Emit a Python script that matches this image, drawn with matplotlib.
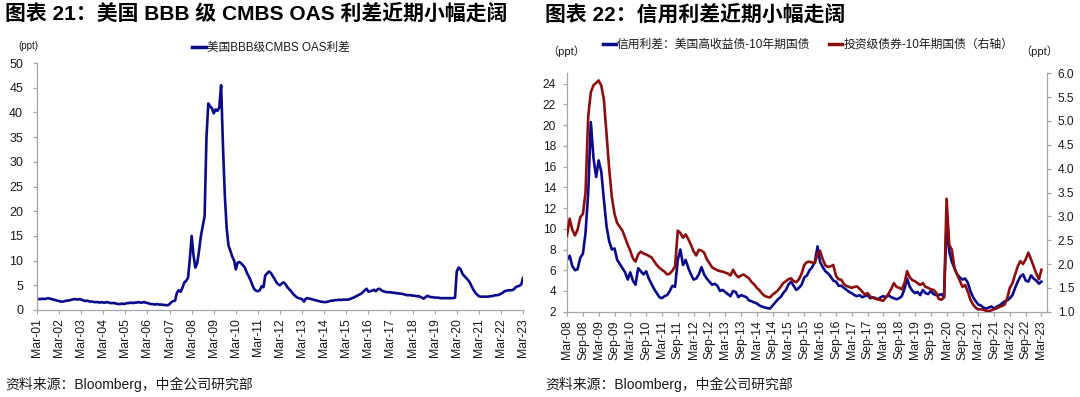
import numpy as np
import pandas as pd
import matplotlib
matplotlib.use('Agg')
import matplotlib.pyplot as plt
from matplotlib.lines import Line2D
from matplotlib.ticker import FormatStrFormatter

plt.rcParams['font.family'] = ['Liberation Sans', 'Noto Sans CJK SC']
plt.rcParams['axes.unicode_minus'] = False

# --- 图表21: 美国BBB级CMBS OAS利差 (月度, Mar-01 ~ Mar-23, ppt) ---
cmbs_oas = [
    2.3, 2.2, 2.2, 2.3, 2.2, 2.3, 2.4, 2.3, 2.2, 2.1, 2.0, 1.9,
    1.8, 1.7, 1.7, 1.8, 1.9, 1.9, 2.0, 2.1, 2.2, 2.2, 2.1, 2.2,
    2.1, 2.0, 1.8, 1.9, 1.8, 1.7, 1.7, 1.6, 1.6, 1.6, 1.5, 1.6,
    1.5, 1.5, 1.6, 1.5, 1.4, 1.4, 1.4, 1.3, 1.2, 1.2, 1.3, 1.2,
    1.3, 1.4, 1.4, 1.5, 1.4, 1.5, 1.5, 1.6, 1.5, 1.5, 1.6, 1.5,
    1.4, 1.3, 1.2, 1.2, 1.1, 1.2, 1.1, 1.1, 1.1, 1.0, 1.0, 0.95,
    1.2, 1.6, 1.8, 1.9, 3.5, 4.0, 3.7, 4.5, 5.6, 5.9, 6.5, 10.5,
    15.0, 11.0, 8.6, 9.5, 12.0, 15.0, 17.0, 19.0, 35.0, 41.8, 41.2, 40.8,
    39.8, 40.6, 40.3, 41.0, 45.5, 33.0, 23.0, 16.5, 13.0, 12.0, 10.8, 10.0,
    8.2, 9.6, 9.7, 9.4, 9.0, 8.5, 7.5, 6.8, 6.0, 5.0, 4.2, 3.9,
    3.8, 4.0, 4.8, 4.6, 7.0, 7.4, 7.8, 7.5, 6.9, 6.3, 5.6, 5.2,
    5.0, 5.4, 5.6, 5.2, 4.6, 4.2, 3.8, 3.3, 2.9, 2.6, 2.4, 2.3,
    2.2, 1.7, 2.3, 2.4, 2.3, 2.2, 2.1, 2.0, 1.9, 1.8, 1.7, 1.65,
    1.6, 1.6, 1.7, 1.8, 1.9, 1.9, 2.0, 2.0, 2.1, 2.0, 2.1, 2.1,
    2.1, 2.1, 2.2, 2.4, 2.5, 2.7, 2.9, 3.1, 3.3, 3.6, 4.0, 4.3,
    3.7, 3.8, 3.9, 4.1, 3.8, 4.2, 4.3, 4.0, 3.8, 3.7, 3.6, 3.6,
    3.6, 3.5, 3.5, 3.4, 3.4, 3.3, 3.3, 3.2, 3.1, 3.0, 3.0, 3.0,
    2.9, 2.9, 2.8, 2.8, 2.7, 2.5, 2.3, 2.6, 2.9, 2.7, 2.6, 2.6,
    2.5, 2.5, 2.5, 2.4, 2.4, 2.4, 2.4, 2.4, 2.4, 2.4, 2.4, 2.5,
    7.8, 8.6, 8.3, 7.4, 6.9, 6.5, 6.1, 5.6, 4.8, 4.1, 3.5, 3.1,
    2.8, 2.7, 2.7, 2.7, 2.7, 2.7, 2.8, 2.8, 2.9, 3.0, 3.0, 3.1,
    3.3, 3.5, 3.8, 3.9, 4.0, 4.0, 4.0, 4.2, 4.6, 4.8, 4.9, 5.2,
    6.5,
]
cmbs_dates = pd.date_range('2001-03-01', periods=len(cmbs_oas), freq='MS')
cmbs_ticks = pd.date_range('2001-03-01', '2023-03-01', freq='12MS')

# --- 图表22: 信用利差 (月度, Mar-08 ~ Mar-23) ---
# 美国高收益债-10年期国债 (左轴, ppt)
hy_spread = [
    7.0, 7.4, 6.4, 6.0, 6.1, 7.2, 7.6, 9.6, 13.5, 20.3, 16.8, 15.0,
    16.6, 15.5, 12.8, 10.2, 8.8, 8.0, 8.1, 7.0, 6.6, 6.2, 5.8, 5.1,
    5.8, 5.0, 4.6, 6.2, 5.9, 5.6, 5.9, 5.2, 4.7, 4.2, 3.8, 3.4,
    3.3, 3.5, 3.6, 4.0, 4.5, 4.4, 7.0, 8.0, 6.5, 7.0, 6.2, 5.6,
    5.1, 5.2, 5.6, 6.3, 5.6, 5.2, 4.9, 4.6, 4.7, 4.5, 4.0, 4.1,
    3.9, 3.7, 3.5, 4.0, 3.9, 3.4, 3.6, 3.5, 3.4, 3.1, 3.0, 2.9,
    2.8, 2.6, 2.5, 2.4, 2.35, 2.3, 2.6, 2.9, 3.2, 3.4, 3.8, 4.1,
    4.6, 4.9, 4.5, 4.1, 4.3, 4.6, 5.3, 5.5, 6.0, 6.3, 6.8, 8.3,
    6.8, 6.3, 5.9, 5.7, 5.4, 5.0, 4.9, 4.5, 4.5, 4.3, 4.1, 3.9,
    3.8, 3.6, 3.5, 3.6, 3.4, 3.5, 3.6, 3.3, 3.4, 3.3, 3.2, 3.4,
    3.5, 3.4, 3.6, 3.4, 3.3, 3.2, 3.3, 3.5, 4.2, 5.2, 4.4, 4.0,
    3.8, 3.9, 3.6, 4.1, 3.8, 3.7, 4.0, 3.7, 3.6, 3.6, 3.7, 3.4,
    10.5, 7.8, 6.8, 6.2, 5.6, 5.3, 5.1, 5.2, 4.8, 4.0, 3.4, 3.0,
    2.7, 2.6, 2.4, 2.3, 2.4, 2.5, 2.3, 2.5, 2.6, 2.8, 3.0, 3.1,
    3.3, 3.6, 4.3, 4.9, 5.4, 5.6, 5.0, 4.9, 5.5, 5.2, 5.0, 4.7,
    4.9,
]
# 投资级债券-10年期国债 (右轴, ppt)
ig_spread = [
    2.6, 2.95, 2.72, 2.6, 2.72, 2.98, 3.05, 3.5, 5.1, 5.6, 5.75, 5.8,
    5.85, 5.74, 5.45, 4.7, 4.0, 3.4, 3.05, 2.86, 2.78, 2.7, 2.55, 2.4,
    2.28, 2.12, 2.05, 2.2, 2.26, 2.22, 2.2, 2.17, 2.14, 2.06, 1.98, 1.92,
    1.88, 1.84, 1.78, 1.8, 1.86, 1.95, 2.7, 2.65, 2.55, 2.62, 2.52, 2.4,
    2.27, 2.18, 2.3, 2.28, 2.24, 2.1, 2.02, 1.93, 1.9, 1.87, 1.85, 1.84,
    1.82, 1.8, 1.76, 1.88, 1.78, 1.72, 1.76, 1.78, 1.74, 1.7, 1.62, 1.57,
    1.5, 1.45, 1.38, 1.33, 1.31, 1.3, 1.36, 1.4, 1.45, 1.52, 1.6, 1.64,
    1.68, 1.7, 1.64, 1.62, 1.68, 1.8, 1.98, 2.04, 2.05, 2.03, 2.02, 2.22,
    2.28, 2.1, 1.97, 1.94, 1.95, 1.98, 1.75, 1.68, 1.67, 1.58, 1.54, 1.52,
    1.5, 1.52, 1.53, 1.48, 1.42, 1.36, 1.39, 1.32, 1.29, 1.27, 1.26, 1.24,
    1.23, 1.3, 1.38, 1.48, 1.6, 1.52, 1.5, 1.47, 1.6, 1.85, 1.72, 1.66,
    1.64, 1.6, 1.56, 1.6, 1.52, 1.5, 1.47, 1.46, 1.4, 1.27, 1.25, 1.3,
    3.37, 2.4, 2.3, 1.9, 1.78, 1.65, 1.52, 1.56, 1.42, 1.25, 1.15, 1.08,
    1.05, 1.05, 1.04, 1.02, 1.01, 1.03, 1.05, 1.07, 1.1, 1.12, 1.15, 1.3,
    1.5, 1.6, 1.78, 1.95, 2.06, 2.0, 2.1, 2.24, 2.1, 1.95, 1.8, 1.68,
    1.88,
]
spread_dates = pd.date_range('2008-03-01', periods=len(hy_spread), freq='MS')
spread_ticks = pd.date_range('2008-03-01', '2023-03-01', freq='6MS')

navy = '#0a0a8a'
darkred = '#8c0e0e'
grey = '#a6a6a6'
txt = '#1a1a1a'

W, H = 1080, 397
fig = plt.figure(figsize=(W / 100, H / 100), dpi=100)


def box(x0, y0, x1, y1):
    # 像素坐标 -> figure 坐标
    return [x0 / W, 1 - y1 / H, (x1 - x0) / W, (y1 - y0) / H]


def style_axis(ax, spines_on):
    for name, sp in ax.spines.items():
        sp.set_visible(name in spines_on)
        sp.set_color(grey)
        sp.set_linewidth(0.9)
    ax.tick_params(colors=grey, labelcolor=txt, length=3, width=0.9)


# ---------------- 左图 ----------------
ax1 = fig.add_axes(box(37, 63, 523, 310))
ax1.plot(cmbs_dates, cmbs_oas, color=navy, lw=1.9)
ax1.set_xlim(cmbs_dates[0], cmbs_dates[-1])
ax1.set_ylim(0, 50)
ax1.set_yticks(range(0, 51, 5))
ax1.set_xticks(cmbs_ticks)
ax1.set_xticklabels([d.strftime('%b-%y') for d in cmbs_ticks], rotation=90)
style_axis(ax1, ['left', 'bottom'])
ax1.tick_params(axis='y', labelsize=9, pad=7)
ax1.tick_params(axis='x', labelsize=8.8, pad=3)

fig.text(5 / W, 1 - 14 / H, '图表 21：美国 BBB 级 CMBS OAS 利差近期小幅走阔',
         fontsize=15, fontweight='bold', va='center', color='black')
fig.text(18 / W, 1 - 46 / H, '(ppt)', fontsize=7, va='center', color=txt)
fig.legend([Line2D([], [], color=navy, lw=2.5)], ['美国BBB级CMBS OAS利差'],
           loc='center', bbox_to_anchor=(271 / W, 1 - 48 / H), frameon=False,
           fontsize=8.4, handlelength=1.2, handletextpad=0.1,
           borderpad=0, borderaxespad=0, labelcolor=txt)
fig.text(5 / W, 1 - 384 / H, '资料来源：Bloomberg，中金公司研究部',
         fontsize=10, va='center', color=txt)

# ---------------- 右图 ----------------
ax2 = fig.add_axes(box(567, 73.3, 1046.7, 311.7))
ax2.plot(spread_dates, hy_spread, color=navy, lw=1.9)
ax2.set_xlim(pd.Timestamp('2008-03-01'), pd.Timestamp('2023-05-01'))
ax2.set_ylim(2, 25)
ax2.set_yticks(range(2, 25, 2))
ax2.set_xticks(spread_ticks)
ax2.set_xticklabels([d.strftime('%b-%y') for d in spread_ticks], rotation=90)
style_axis(ax2, ['left', 'bottom'])
ax2.tick_params(axis='y', labelsize=8.6, pad=5)
ax2.tick_params(axis='x', labelsize=8.8, pad=3)

ax2r = ax2.twinx()
ax2r.plot(spread_dates, ig_spread, color=darkred, lw=1.9)
ax2r.set_ylim(1, 6)
ax2r.set_yticks(np.arange(1, 6.01, 0.5))
ax2r.yaxis.set_major_formatter(FormatStrFormatter('%.1f'))
style_axis(ax2r, ['right'])
ax2r.tick_params(axis='y', labelsize=8.6, pad=5)

fig.text(545 / W, 1 - 14 / H, '图表 22：信用利差近期小幅走阔',
         fontsize=15, fontweight='bold', va='center', color='black')
fig.text(547 / W, 1 - 51 / H, '（ppt）', fontsize=8, va='center', color=txt)
fig.text(1058 / W, 1 - 51 / H, '（ppt）', fontsize=8, va='center', ha='right', color=txt)
fig.legend([Line2D([], [], color=navy, lw=2.5), Line2D([], [], color=darkred, lw=2.5)],
           ['信用利差：美国高收益债-10年期国债', '投资级债券-10年期国债（右轴）'],
           loc='center', bbox_to_anchor=(808 / W, 1 - 45 / H), frameon=False, ncol=2,
           fontsize=8.5, handlelength=1.1, handletextpad=0.1, columnspacing=1.6,
           borderpad=0, borderaxespad=0, labelcolor=txt)
fig.text(545 / W, 1 - 384 / H, '资料来源：Bloomberg，中金公司研究部',
         fontsize=10, va='center', color=txt)

fig.savefig('out.png', dpi=100)
